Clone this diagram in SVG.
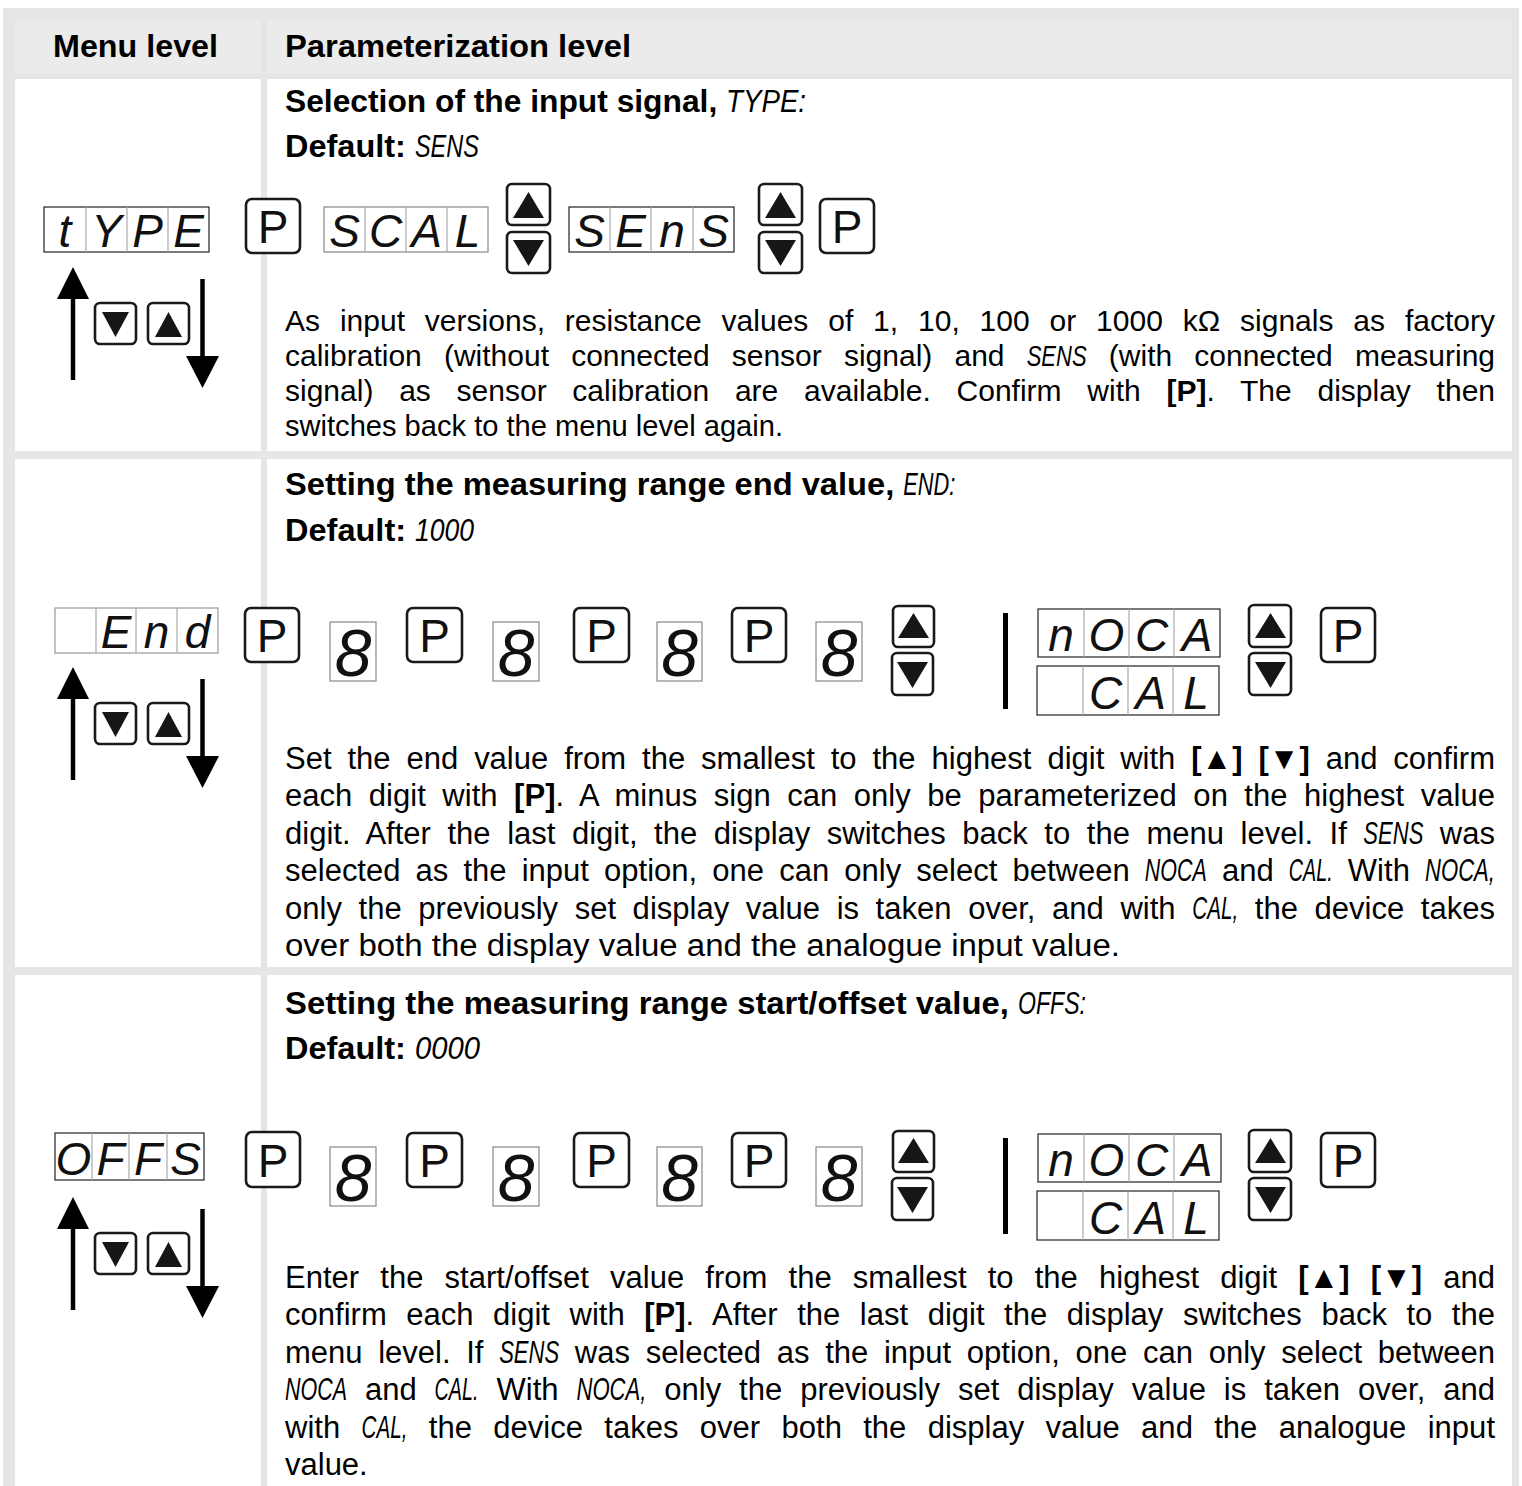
<svg xmlns="http://www.w3.org/2000/svg" width="1522" height="1486" viewBox="0 0 1522 1486">
<style>
.bg{fill:#e6e6e6}
.hc{fill:#ebebeb}
.wc{fill:#ffffff}
text{font-family:"Liberation Sans",Arial,sans-serif;fill:#000}
.h{font-size:31px;font-weight:bold}
.t{font-size:31px;font-weight:bold}
.b1{font-size:30px}
.b2{font-size:31px}
.bb{font-weight:bold}
.sg{font-family:"Liberation Sans Narrow","Liberation Sans",sans-serif;font-style:italic;font-weight:normal}
.dbox{fill:#fff;stroke:#222;stroke-width:1.2}
.dv{stroke:#aaa;stroke-width:1.2}
.dc{font-size:46px;font-style:italic;text-anchor:middle;fill:#111}
.d8{font-size:66px;font-style:italic;text-anchor:middle;fill:#111}
.btn{fill:#fff;stroke:#1a1a1a;stroke-width:2.6}
.pt{font-size:46px;text-anchor:middle;fill:#111}
.tri{fill:#161616}
.shaft{stroke:#000;stroke-width:4.5}
.ah{fill:#000}
.bar{fill:#000}
</style>

<g id="table">
  <rect class="bg" x="3" y="8" width="1516" height="1478"/>
  <rect class="hc" x="15" y="21" width="246" height="52"/>
  <rect class="hc" x="267" y="21" width="1245" height="52"/>
  <rect class="wc" x="15" y="79" width="246" height="372"/>
  <rect class="wc" x="267" y="79" width="1245" height="372"/>
  <rect class="wc" x="15" y="459" width="246" height="508"/>
  <rect class="wc" x="267" y="459" width="1245" height="508"/>
  <rect class="wc" x="15" y="975" width="246" height="511"/>
  <rect class="wc" x="267" y="975" width="1245" height="511"/>
</g>

<g id="header">
  <text class="h" x="53" y="57" textLength="165" lengthAdjust="spacingAndGlyphs">Menu level</text>
  <text class="h" x="285" y="57" textLength="346" lengthAdjust="spacingAndGlyphs">Parameterization level</text>
</g>

<!-- ===================== ROW 1 ===================== -->
<g id="row1-text">
  <text class="t" x="285" y="112" textLength="523" lengthAdjust="spacingAndGlyphs">Selection of the input signal, <tspan class="sg" textLength="80" lengthAdjust="spacingAndGlyphs">TYPE:</tspan></text>
  <text class="t" x="285" y="157" textLength="197" lengthAdjust="spacingAndGlyphs">Default: <tspan class="sg" textLength="64" lengthAdjust="spacingAndGlyphs">SENS</tspan></text>
  <text class="b1" x="285" y="331" word-spacing="11.5" textLength="1210" lengthAdjust="spacing">As input versions, resistance values of 1, 10, 100 or 1000 kΩ signals as factory</text>
  <text class="b1" x="285" y="366" word-spacing="13.8" textLength="1210" lengthAdjust="spacing">calibration (without connected sensor signal) and <tspan class="sg" textLength="60" lengthAdjust="spacingAndGlyphs">SENS</tspan> (with connected measuring</text>
  <text class="b1" x="285" y="401" word-spacing="17.4" textLength="1210" lengthAdjust="spacing">signal) as sensor calibration are available. Confirm with <tspan class="bb">[P]</tspan>. The display then</text>
  <text class="b1" x="285" y="436" textLength="498" lengthAdjust="spacingAndGlyphs">switches back to the menu level again.</text>
</g>

<g id="r1-menu-display">
  <rect class="dbox" x="44" y="207" width="165" height="45"/>
  <line class="dv" x1="86" y1="207" x2="86" y2="252"/>
  <line class="dv" x1="127" y1="207" x2="127" y2="252"/>
  <line class="dv" x1="168" y1="207" x2="168" y2="252"/>
  <text class="dc" x="65" y="247">t</text>
  <text class="dc" x="106.5" y="247">Y</text>
  <text class="dc" x="147.5" y="247">P</text>
  <text class="dc" x="188.5" y="247">E</text>
</g>
<g id="r1-nav">
  <line class="shaft" x1="73" y1="295" x2="73" y2="380"/>
  <polygon class="ah" points="73,267 57,299 89,299"/>
  <line class="shaft" x1="202.5" y1="279" x2="202.5" y2="358"/>
  <polygon class="ah" points="186,356 219,356 202.5,388"/>
  <rect class="btn" x="95" y="303" width="41" height="41" rx="5"/>
  <polygon class="tri" points="102,312 129,312 115.5,337"/>
  <rect class="btn" x="148" y="303" width="41" height="41" rx="5"/>
  <polygon class="tri" points="155,337 182,337 168.5,312"/>
</g>
<g id="r1-p1">
  <rect class="btn" x="246" y="199" width="54" height="54" rx="6"/>
  <text class="pt" x="273" y="243">P</text>
</g>
<g id="r1-scal">
  <rect class="dbox" x="324" y="207" width="164" height="45" style="stroke:#888"/>
  <line class="dv" x1="365" y1="207" x2="365" y2="252"/>
  <line class="dv" x1="406" y1="207" x2="406" y2="252"/>
  <line class="dv" x1="447" y1="207" x2="447" y2="252"/>
  <text class="dc" x="344.5" y="247">S</text>
  <text class="dc" x="385.5" y="247">C</text>
  <text class="dc" x="426.5" y="247">A</text>
  <text class="dc" x="467.5" y="247">L</text>
</g>
<g id="r1-updown1">
  <rect class="btn" x="507" y="184" width="43" height="41" rx="5"/>
  <polygon class="tri" points="513,218 544,218 528.5,192"/>
  <rect class="btn" x="507" y="232" width="43" height="41" rx="5"/>
  <polygon class="tri" points="513,240 544,240 528.5,266"/>
</g>
<g id="r1-sens">
  <rect class="dbox" x="569" y="207" width="165" height="45"/>
  <line class="dv" x1="610" y1="207" x2="610" y2="252"/>
  <line class="dv" x1="651" y1="207" x2="651" y2="252"/>
  <line class="dv" x1="693" y1="207" x2="693" y2="252"/>
  <text class="dc" x="589.5" y="247">S</text>
  <text class="dc" x="630.5" y="247">E</text>
  <text class="dc" x="672" y="247">n</text>
  <text class="dc" x="713.5" y="247">S</text>
</g>
<g id="r1-updown2">
  <rect class="btn" x="759" y="184" width="43" height="41" rx="5"/>
  <polygon class="tri" points="765,218 796,218 780.5,192"/>
  <rect class="btn" x="759" y="232" width="43" height="41" rx="5"/>
  <polygon class="tri" points="765,240 796,240 780.5,266"/>
</g>
<g id="r1-p2">
  <rect class="btn" x="820" y="199" width="54" height="54" rx="6"/>
  <text class="pt" x="847" y="243">P</text>
</g>

<!-- ===================== ROW 2 ===================== -->
<g id="row2-text">
  <text class="t" x="285" y="495" textLength="673" lengthAdjust="spacingAndGlyphs">Setting the measuring range end value, <tspan class="sg" textLength="52" lengthAdjust="spacingAndGlyphs">END:</tspan></text>
  <text class="t" x="285" y="541" textLength="192" lengthAdjust="spacingAndGlyphs">Default: <tspan class="sg" textLength="59" lengthAdjust="spacingAndGlyphs">1000</tspan></text>
  <text class="b2" x="285" y="769" word-spacing="7.3" textLength="1210" lengthAdjust="spacing">Set the end value from the smallest to the highest digit with <tspan class="bb">[▲] [▼]</tspan> and confirm</text>
  <text class="b2" x="285" y="806" word-spacing="7.8" textLength="1210" lengthAdjust="spacing">each digit with <tspan class="bb">[P]</tspan>. A minus sign can only be parameterized on the highest value</text>
  <text class="b2" x="285" y="844" word-spacing="7.9" textLength="1210" lengthAdjust="spacing">digit. After the last digit, the display switches back to the menu level. If <tspan class="sg" textLength="60" lengthAdjust="spacingAndGlyphs">SENS</tspan> was</text>
  <text class="b2" x="285" y="881" word-spacing="6.5" textLength="1210" lengthAdjust="spacing">selected as the input option, one can only select between <tspan class="sg" textLength="62" lengthAdjust="spacingAndGlyphs">NOCA</tspan> and <tspan class="sg" textLength="44" lengthAdjust="spacingAndGlyphs">CAL.</tspan> With <tspan class="sg" textLength="70" lengthAdjust="spacingAndGlyphs">NOCA,</tspan></text>
  <text class="b2" x="285" y="919" word-spacing="7.9" textLength="1210" lengthAdjust="spacing">only the previously set display value is taken over, and with <tspan class="sg" textLength="46" lengthAdjust="spacingAndGlyphs">CAL,</tspan> the device takes</text>
  <text class="b2" x="285" y="956" textLength="835" lengthAdjust="spacingAndGlyphs">over both the display value and the analogue input value.</text>
</g>

<g id="r2-menu-display">
  <rect class="dbox" x="55" y="608" width="163" height="45" style="stroke:#999"/>
  <line class="dv" x1="96" y1="608" x2="96" y2="653"/>
  <line class="dv" x1="136" y1="608" x2="136" y2="653"/>
  <line class="dv" x1="177" y1="608" x2="177" y2="653"/>
  <text class="dc" x="116" y="648">E</text>
  <text class="dc" x="156.5" y="648">n</text>
  <text class="dc" x="197.5" y="648">d</text>
</g>
<g id="r2-nav">
  <line class="shaft" x1="73" y1="695" x2="73" y2="780"/>
  <polygon class="ah" points="73,667 57,699 89,699"/>
  <line class="shaft" x1="202.5" y1="679" x2="202.5" y2="758"/>
  <polygon class="ah" points="186,756 219,756 202.5,788"/>
  <rect class="btn" x="95" y="703" width="41" height="41" rx="5"/>
  <polygon class="tri" points="102,712 129,712 115.5,737"/>
  <rect class="btn" x="148" y="703" width="41" height="41" rx="5"/>
  <polygon class="tri" points="155,737 182,737 168.5,712"/>
</g>
<g id="r2-p1"><rect class="btn" x="245" y="608" width="54" height="54" rx="6"/><text class="pt" x="272" y="652">P</text></g>
<g id="r2-d1"><rect class="dbox" x="330" y="622" width="46" height="59" style="stroke:#888"/><text class="d8" x="353" y="676">8</text></g>
<g id="r2-p2"><rect class="btn" x="407" y="608" width="55" height="54" rx="6"/><text class="pt" x="434.5" y="652">P</text></g>
<g id="r2-d2"><rect class="dbox" x="493" y="622" width="46" height="59" style="stroke:#888"/><text class="d8" x="516" y="676">8</text></g>
<g id="r2-p3"><rect class="btn" x="574" y="608" width="55" height="54" rx="6"/><text class="pt" x="601.5" y="652">P</text></g>
<g id="r2-d3"><rect class="dbox" x="657" y="622" width="45" height="59" style="stroke:#888"/><text class="d8" x="679.5" y="676">8</text></g>
<g id="r2-p4"><rect class="btn" x="732" y="608" width="54" height="54" rx="6"/><text class="pt" x="759" y="652">P</text></g>
<g id="r2-d4"><rect class="dbox" x="816" y="622" width="46" height="59" style="stroke:#888"/><text class="d8" x="839" y="676">8</text></g>
<g id="r2-updown1">
  <rect class="btn" x="893" y="606" width="41" height="41" rx="5"/>
  <polygon class="tri" points="898,638 929,638 913.5,613"/>
  <rect class="btn" x="892" y="653" width="41" height="42" rx="5"/>
  <polygon class="tri" points="897,662 928,662 912.5,688"/>
</g>
<g id="r2-bar"><rect class="bar" x="1003" y="613" width="5" height="96"/></g>
<g id="r2-noca">
  <rect class="dbox" x="1038" y="609" width="182" height="48"/>
  <line class="dv" x1="1084" y1="609" x2="1084" y2="657"/>
  <line class="dv" x1="1129" y1="609" x2="1129" y2="657"/>
  <line class="dv" x1="1174" y1="609" x2="1174" y2="657"/>
  <text class="dc" x="1061" y="651">n</text>
  <text class="dc" x="1106.5" y="651">O</text>
  <text class="dc" x="1151.5" y="651">C</text>
  <text class="dc" x="1197" y="651">A</text>
</g>
<g id="r2-cal">
  <rect class="dbox" x="1037" y="666" width="182" height="49"/>
  <line class="dv" x1="1083" y1="666" x2="1083" y2="715"/>
  <line class="dv" x1="1128" y1="666" x2="1128" y2="715"/>
  <line class="dv" x1="1173" y1="666" x2="1173" y2="715"/>
  <text class="dc" x="1105.5" y="709">C</text>
  <text class="dc" x="1150.5" y="709">A</text>
  <text class="dc" x="1196" y="709">L</text>
</g>
<g id="r2-updown2">
  <rect class="btn" x="1249" y="605" width="42" height="42" rx="5"/>
  <polygon class="tri" points="1255,638 1286,638 1270.5,613"/>
  <rect class="btn" x="1249" y="653" width="42" height="42" rx="5"/>
  <polygon class="tri" points="1255,662 1286,662 1270.5,688"/>
</g>
<g id="r2-p5"><rect class="btn" x="1321" y="608" width="54" height="54" rx="6"/><text class="pt" x="1348" y="652">P</text></g>

<!-- ===================== ROW 3 ===================== -->
<g id="row3-text">
  <text class="t" x="285" y="1014" textLength="805" lengthAdjust="spacingAndGlyphs">Setting the measuring range start/offset value, <tspan class="sg" textLength="68" lengthAdjust="spacingAndGlyphs">OFFS:</tspan></text>
  <text class="t" x="285" y="1059" textLength="198" lengthAdjust="spacingAndGlyphs">Default: <tspan class="sg" textLength="65" lengthAdjust="spacingAndGlyphs">0000</tspan></text>
  <text class="b2" x="285" y="1288" word-spacing="12.5" textLength="1210" lengthAdjust="spacing">Enter the start/offset value from the smallest to the highest digit <tspan class="bb">[▲] [▼]</tspan> and</text>
  <text class="b2" x="285" y="1325" word-spacing="10.9" textLength="1210" lengthAdjust="spacing">confirm each digit with <tspan class="bb">[P]</tspan>. After the last digit the display switches back to the</text>
  <text class="b2" x="285" y="1363" word-spacing="7.1" textLength="1210" lengthAdjust="spacing">menu level. If <tspan class="sg" textLength="60" lengthAdjust="spacingAndGlyphs">SENS</tspan> was selected as the input option, one can only select between</text>
  <text class="b2" x="285" y="1400" word-spacing="9.2" textLength="1210" lengthAdjust="spacing"><tspan class="sg" textLength="62" lengthAdjust="spacingAndGlyphs">NOCA</tspan> and <tspan class="sg" textLength="44" lengthAdjust="spacingAndGlyphs">CAL.</tspan> With <tspan class="sg" textLength="70" lengthAdjust="spacingAndGlyphs">NOCA,</tspan> only the previously set display value is taken over, and</text>
  <text class="b2" x="285" y="1438" word-spacing="12.7" textLength="1210" lengthAdjust="spacing">with <tspan class="sg" textLength="46" lengthAdjust="spacingAndGlyphs">CAL,</tspan> the device takes over both the display value and the analogue input</text>
  <text class="b2" x="285" y="1475">value.</text>
</g>

<g id="r3-menu-display">
  <rect class="dbox" x="55" y="1133" width="149" height="47"/>
  <line class="dv" x1="92" y1="1133" x2="92" y2="1180"/>
  <line class="dv" x1="129" y1="1133" x2="129" y2="1180"/>
  <line class="dv" x1="167" y1="1133" x2="167" y2="1180"/>
  <text class="dc" x="73.5" y="1175">O</text>
  <text class="dc" x="110.5" y="1175">F</text>
  <text class="dc" x="148" y="1175">F</text>
  <text class="dc" x="185.5" y="1175">S</text>
</g>
<g id="r3-nav">
  <line class="shaft" x1="73" y1="1225" x2="73" y2="1310"/>
  <polygon class="ah" points="73,1197 57,1229 89,1229"/>
  <line class="shaft" x1="202.5" y1="1209" x2="202.5" y2="1288"/>
  <polygon class="ah" points="186,1286 219,1286 202.5,1318"/>
  <rect class="btn" x="95" y="1233" width="41" height="41" rx="5"/>
  <polygon class="tri" points="102,1242 129,1242 115.5,1267"/>
  <rect class="btn" x="148" y="1233" width="41" height="41" rx="5"/>
  <polygon class="tri" points="155,1267 182,1267 168.5,1242"/>
</g>
<g id="r3-p1"><rect class="btn" x="246" y="1132" width="54" height="55" rx="6"/><text class="pt" x="273" y="1177">P</text></g>
<g id="r3-d1"><rect class="dbox" x="330" y="1147" width="46" height="59" style="stroke:#888"/><text class="d8" x="353" y="1201">8</text></g>
<g id="r3-p2"><rect class="btn" x="407" y="1133" width="55" height="54" rx="6"/><text class="pt" x="434.5" y="1177">P</text></g>
<g id="r3-d2"><rect class="dbox" x="493" y="1147" width="46" height="59" style="stroke:#888"/><text class="d8" x="516" y="1201">8</text></g>
<g id="r3-p3"><rect class="btn" x="574" y="1133" width="55" height="54" rx="6"/><text class="pt" x="601.5" y="1177">P</text></g>
<g id="r3-d3"><rect class="dbox" x="657" y="1147" width="45" height="59" style="stroke:#888"/><text class="d8" x="679.5" y="1201">8</text></g>
<g id="r3-p4"><rect class="btn" x="732" y="1133" width="54" height="54" rx="6"/><text class="pt" x="759" y="1177">P</text></g>
<g id="r3-d4"><rect class="dbox" x="816" y="1147" width="46" height="59" style="stroke:#888"/><text class="d8" x="839" y="1201">8</text></g>
<g id="r3-updown1">
  <rect class="btn" x="893" y="1131" width="41" height="41" rx="5"/>
  <polygon class="tri" points="898,1163 929,1163 913.5,1138"/>
  <rect class="btn" x="892" y="1178" width="41" height="42" rx="5"/>
  <polygon class="tri" points="897,1187 928,1187 912.5,1213"/>
</g>
<g id="r3-bar"><rect class="bar" x="1003" y="1138" width="5" height="96"/></g>
<g id="r3-noca">
  <rect class="dbox" x="1038" y="1134" width="183" height="48"/>
  <line class="dv" x1="1084" y1="1134" x2="1084" y2="1182"/>
  <line class="dv" x1="1129" y1="1134" x2="1129" y2="1182"/>
  <line class="dv" x1="1174" y1="1134" x2="1174" y2="1182"/>
  <text class="dc" x="1061" y="1176">n</text>
  <text class="dc" x="1106.5" y="1176">O</text>
  <text class="dc" x="1151.5" y="1176">C</text>
  <text class="dc" x="1197" y="1176">A</text>
</g>
<g id="r3-cal">
  <rect class="dbox" x="1037" y="1191" width="182" height="49"/>
  <line class="dv" x1="1083" y1="1191" x2="1083" y2="1240"/>
  <line class="dv" x1="1128" y1="1191" x2="1128" y2="1240"/>
  <line class="dv" x1="1173" y1="1191" x2="1173" y2="1240"/>
  <text class="dc" x="1105.5" y="1234">C</text>
  <text class="dc" x="1150.5" y="1234">A</text>
  <text class="dc" x="1196" y="1234">L</text>
</g>
<g id="r3-updown2">
  <rect class="btn" x="1249" y="1130" width="42" height="42" rx="5"/>
  <polygon class="tri" points="1255,1163 1286,1163 1270.5,1138"/>
  <rect class="btn" x="1249" y="1178" width="42" height="42" rx="5"/>
  <polygon class="tri" points="1255,1187 1286,1187 1270.5,1213"/>
</g>
<g id="r3-p5"><rect class="btn" x="1321" y="1133" width="54" height="54" rx="6"/><text class="pt" x="1348" y="1177">P</text></g>

<g id="connectors"></g>
</svg>
